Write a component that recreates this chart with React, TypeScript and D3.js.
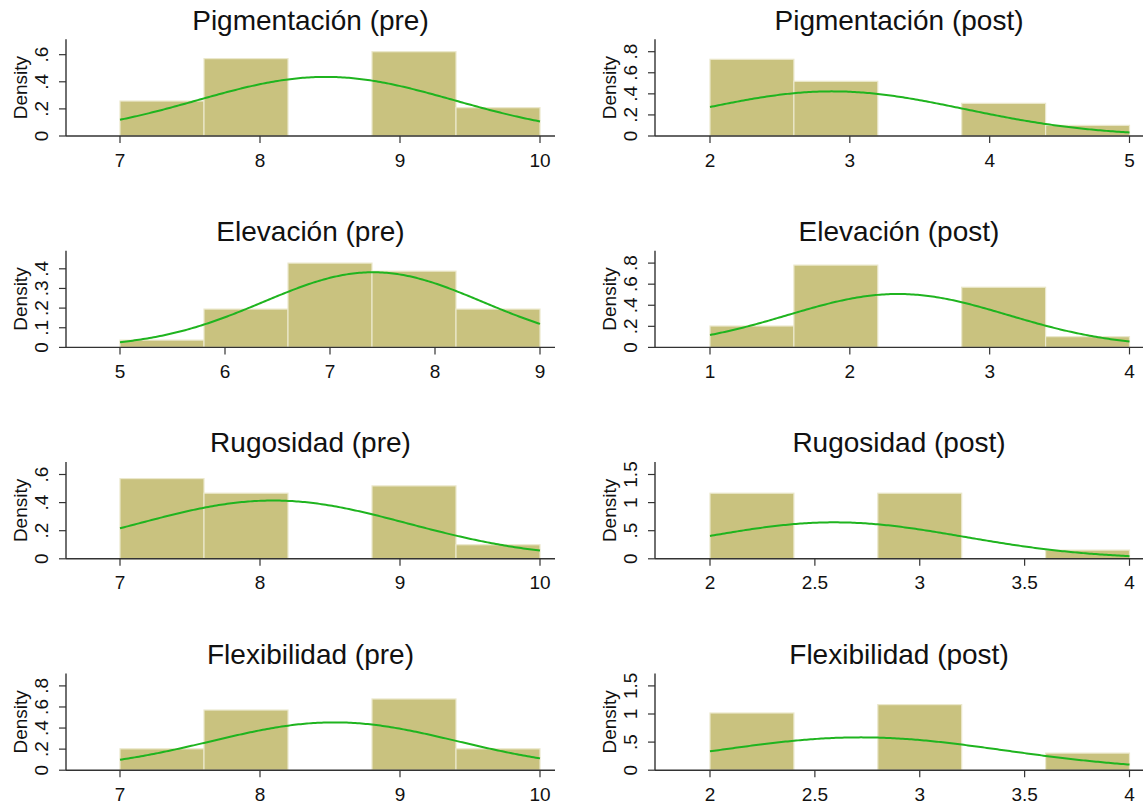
import React from 'react';
import * as d3 from 'd3';

const W = 1143;
const H = 810;

const titles = [
  'Pigmentación (pre)', 'Pigmentación (post)',
  'Elevación (pre)', 'Elevación (post)',
  'Rugosidad (pre)', 'Rugosidad (post)',
  'Flexibilidad (pre)', 'Flexibilidad (post)',
];
const binStarts = [7, 2, 5, 1, 7, 2, 7, 2];
const binWidths = [0.6, 0.6, 0.8, 0.6, 0.6, 0.4, 0.6, 0.4];
const densities = [
  [0.258, 0.571, 0, 0.622, 0.209],
  [0.728, 0.519, 0, 0.31, 0.101],
  [0.037, 0.195, 0.429, 0.388, 0.195],
  [0.203, 0.781, 0, 0.571, 0.102],
  [0.571, 0.467, 0, 0.519, 0.1],
  [1.167, 0, 1.167, 0, 0.155],
  [0.203, 0.571, 0, 0.676, 0.203],
  [1.018, 0, 1.167, 0, 0.304],
];
const means = [8.47, 2.875, 7.41, 2.344, 8.094, 2.594, 8.531, 2.719];
const sds = [0.915, 0.942, 1.043, 0.787, 0.962, 0.615, 0.879, 0.683];
const xTicks = [
  [7, 8, 9, 10],
  [2, 3, 4, 5],
  [5, 6, 7, 8, 9],
  [1, 2, 3, 4],
  [7, 8, 9, 10],
  [2, 2.5, 3, 3.5, 4],
  [7, 8, 9, 10],
  [2, 2.5, 3, 3.5, 4],
];
const yTicks = [
  [0, 0.2, 0.4, 0.6],
  [0, 0.2, 0.4, 0.6, 0.8],
  [0, 0.1, 0.2, 0.3, 0.4],
  [0, 0.2, 0.4, 0.6, 0.8],
  [0, 0.2, 0.4, 0.6],
  [0, 0.5, 1, 1.5],
  [0, 0.2, 0.4, 0.6, 0.8],
  [0, 0.5, 1, 1.5],
];

const FONT = '"Liberation Sans", Arial, Helvetica, sans-serif';
const BAR_FILL = '#c9c27f';
const BAR_STROKE = '#ebe8cc';
const LINE = '#1fb41f';
const AXIS = '#333333';
const TEXT = '#111111';

const fmt = (v: number) => (v === 0 ? '0' : String(v).replace(/^0\./, '.'));

function Panel({ i }: { i: number }) {
  const col = i % 2;
  const row = Math.floor(i / 2);
  const axisX = col ? 655 : 66;
  const axisEnd = col ? 1145 : 555;
  const x0 = col ? 710 : 120;
  const x1 = col ? 1129.5 : 540;
  const base = 136 + row * 211.4;
  const top = base - 96.7;

  const xt = xTicks[i];
  const yt = yTicks[i];
  const dens = densities[i];
  const x = d3.scaleLinear().domain([xt[0], xt[xt.length - 1]]).range([x0, x1]);
  const yMax = Math.max(yt[yt.length - 1], d3.max(dens) as number);
  const y = d3.scaleLinear().domain([0, yMax]).range([base, base - 84.3]);

  const m = means[i];
  const s = sds[i];
  const pts = d3.range(0, 201).map((k) => {
    const xv = xt[0] + ((xt[xt.length - 1] - xt[0]) * k) / 200;
    const d = Math.exp(-0.5 * ((xv - m) / s) ** 2) / (s * Math.sqrt(2 * Math.PI));
    return [xv, d] as [number, number];
  });
  const line = d3.line<[number, number]>().x((d) => x(d[0])).y((d) => y(d[1]))(pts) || '';

  return (
    <g>
      <text x={(axisX + Math.min(axisEnd, W)) / 2} y={base - 106.5} textAnchor="middle"
        fontFamily={FONT} fontSize={28} fill={TEXT}>{titles[i]}</text>
      {dens.map((d, k) => d > 0 ? (
        <rect key={k}
          x={x(binStarts[i] + k * binWidths[i])}
          y={y(d)}
          width={x(binStarts[i] + (k + 1) * binWidths[i]) - x(binStarts[i] + k * binWidths[i])}
          height={base - y(d)}
          fill={BAR_FILL} stroke={BAR_STROKE} strokeWidth={1.2} />
      ) : null)}
      <path d={line} fill="none" stroke={LINE} strokeWidth={2} />
      <line x1={axisX} x2={axisX} y1={top} y2={base} stroke={AXIS} strokeWidth={1.4} />
      <line x1={axisX} x2={axisEnd} y1={base} y2={base} stroke={AXIS} strokeWidth={1.4} />
      {yt.map((v) => (
        <g key={v}>
          <line x1={axisX - 7} x2={axisX} y1={y(v)} y2={y(v)} stroke={AXIS} strokeWidth={1.2} />
          <text transform={`translate(${axisX - 18},${y(v)}) rotate(-90)`} textAnchor="middle"
            fontFamily={FONT} fontSize={19} fill={TEXT}>{fmt(v)}</text>
        </g>
      ))}
      <text transform={`translate(${axisX - 39.5},${(top + base) / 2}) rotate(-90)`} textAnchor="middle"
        fontFamily={FONT} fontSize={19} fill={TEXT}>Density</text>
      {xt.map((v) => (
        <g key={v}>
          <line x1={x(v)} x2={x(v)} y1={base} y2={base + 7} stroke={AXIS} strokeWidth={1.2} />
          <text x={x(v)} y={base + 30.5} textAnchor="middle" fontFamily={FONT} fontSize={19} fill={TEXT}>{String(v)}</text>
        </g>
      ))}
    </g>
  );
}

export default function App() {
  return (
    <svg width={W} height={H} viewBox={`0 0 ${W} ${H}`}
      style={{ position: 'absolute', left: 0, top: 0, background: '#ffffff' }}>
      <rect width={W} height={H} fill="#ffffff" />
      {titles.map((_, i) => <Panel key={i} i={i} />)}
    </svg>
  );
}
